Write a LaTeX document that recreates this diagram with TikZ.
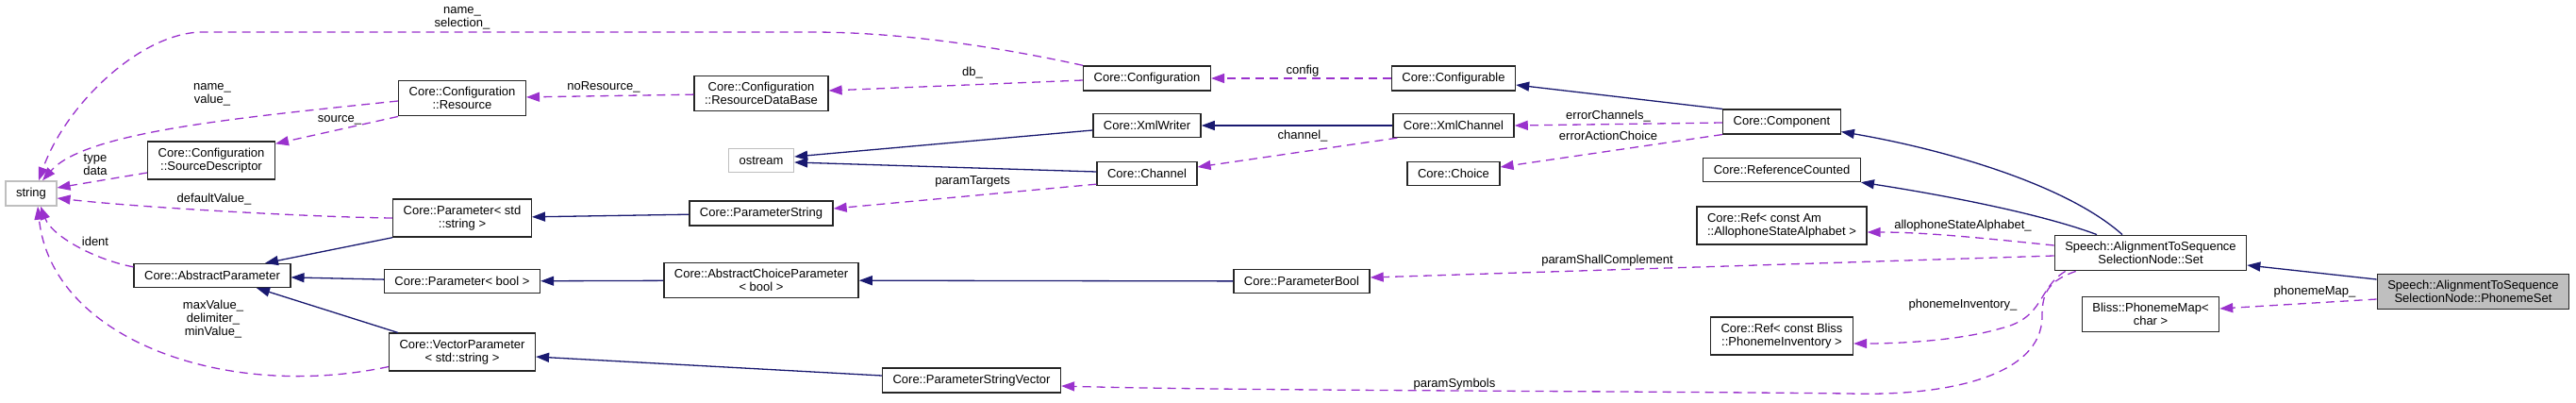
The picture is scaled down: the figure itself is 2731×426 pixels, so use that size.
\documentclass[tikz,border=0pt]{standalone}
\usepackage{fontspec}
\setmainfont{Liberation Sans}
\usetikzlibrary{arrows.meta}
\definecolor{inheritblue}{RGB}{25,25,112}
\definecolor{memberpurple}{RGB}{154,50,205}
\definecolor{extgray}{RGB}{191,191,191}
\tikzset{
  cls/.style={draw=black!85,line width=1.3pt,inner xsep=11pt,inner ysep=7pt,
    minimum height=25pt,align=center,font=\fontsize{13}{14}\selectfont},
  extcls/.style={cls,draw=extgray},
  focuscls/.style={cls,fill=extgray},
  inherit/.style={-{Triangle[length=14pt,width=10pt]},line width=1.3pt,inheritblue},
  member/.style={-{Triangle[length=14pt,width=10pt]},line width=1.3pt,
    dash pattern=on 9pt off 6pt,memberpurple},
  memberlabel/.style={inner sep=0pt,align=center,font=\fontsize{13}{14}\selectfont}
}

\begin{document}
\begin{tikzpicture}[x=1pt,y=-1pt]
  \useasboundingbox (0,0) rectangle (2731,426);
  % classes
  \node[extcls] (string) at (33,205) {string};
  \node[cls] (srcdesc) at (224,170) {Core::Configuration\\::SourceDescriptor};
  \node[cls] (absparam) at (225,292) {Core::AbstractParameter};
  \node[cls] (resource) at (490,104) {Core::Configuration\\::Resource};
  \node[cls] (paramstd) at (490,231) {Core::Parameter< std\\::string >};
  \node[cls] (parambool) at (490,298) {Core::Parameter< bool >};
  \node[cls] (vecparam) at (490,373) {Core::VectorParameter\\< std::string >};
  \node[cls] (resdb) at (807,99) {Core::Configuration\\::ResourceDataBase};
  \node[extcls] (ostream) at (807,170) {ostream};
  \node[cls] (paramstring) at (807,226) {Core::ParameterString};
  \node[cls] (abschoice) at (807,297) {Core::AbstractChoiceParameter\\< bool >};
  \node[cls] (strvector) at (1030,403) {Core::ParameterStringVector};
  \node[cls] (config) at (1216,83) {Core::Configuration};
  \node[cls] (xmlwriter) at (1216,133) {Core::XmlWriter};
  \node[cls] (channel) at (1216,184) {Core::Channel};
  \node[cls] (boolparam) at (1380,298) {Core::ParameterBool};
  \node[cls] (configurable) at (1541,83) {Core::Configurable};
  \node[cls] (xmlchannel) at (1541,133) {Core::XmlChannel};
  \node[cls] (choice) at (1541,184) {Core::Choice};
  \node[cls] (component) at (1889,129) {Core::Component};
  \node[cls] (refcounted) at (1889,180) {Core::ReferenceCounted};
  \node[cls,align=left] (refalphabet) at (1889,239) {Core::Ref< const Am\\::AllophoneStateAlphabet >};
  \node[cls] (refinventory) at (1889,356) {Core::Ref< const Bliss\\::PhonemeInventory >};
  \node[cls] (set) at (2280,268) {Speech::AlignmentToSequence\\SelectionNode::Set};
  \node[cls] (phonememap) at (2280,333) {Bliss::PhonemeMap<\\char >};
  \node[focuscls] (phonemeset) at (2622,309) {Speech::AlignmentToSequence\\SelectionNode::PhonemeSet};

  % inheritance
  \draw[inherit] ([yshift=-5pt]xmlwriter.west) -- ([yshift=4pt]ostream.east);
  \draw[inherit] ([yshift=2pt]channel.west) -- ([yshift=-2pt]ostream.east);
  \draw[inherit] (xmlchannel) -- (xmlwriter);
  \draw[inherit] (component.north west) -- ([yshift=-7pt]configurable.east);
  \draw[inherit] ([xshift=-30pt]set.north) .. controls (2190,195) and (2060,158) .. ([yshift=3pt]component.south east);
  \draw[inherit] ([xshift=-57pt]set.north) .. controls (2160,225) and (2050,205) .. (refcounted.south east);
  \draw[inherit] ([yshift=13pt]phonemeset.west) -- ([yshift=-13pt]set.east);
  \draw[inherit] (paramstring) -- (paramstd);
  \draw[inherit] (paramstd.south west) -- ([xshift=56pt]absparam.north);
  \draw[inherit] (parambool) -- (absparam);
  \draw[inherit] ([xshift=10pt]vecparam.north west) -- ([xshift=47pt]absparam.south);
  \draw[inherit] (abschoice) -- (parambool);
  \draw[inherit] (boolparam) -- (abschoice);
  \draw[inherit] ([yshift=5pt]strvector.west) -- ([yshift=-5pt]vecparam.east);

  % members
  \draw[member] (config.north west) .. controls (1050,48) and (950,34) .. (860,34) -- (215,34)
    .. controls (150,34) and (70,110) .. ([xshift=8pt]string.north);
  \draw[member] ([yshift=-3pt]resource.west) .. controls (250,125) and (90,140) .. ([xshift=12pt]string.north);
  \draw[member] ([yshift=-13pt]srcdesc.west) -- ([yshift=6pt]string.east);
  \draw[member] (paramstd.west) .. controls (330,230) and (150,220) .. ([yshift=-5pt]string.east);
  \draw[member] ([yshift=-4pt]absparam.north west) .. controls (100,275) and (55,250) .. ([xshift=10pt]string.south);
  \draw[member] ([yshift=5pt]vecparam.south west) .. controls (240,425) and (55,360) .. ([xshift=7pt]string.south);
  \draw[member] (resource.south west) -- ([yshift=-3pt]srcdesc.north east);
  \draw[member] (resdb) -- (resource);
  \draw[member] ([yshift=-2pt]config.west) -- ([yshift=3pt]resdb.east);
  \draw[member] (configurable) -- (config);
  \draw[member] ([yshift=-1pt]component.west) -- (xmlchannel.east);
  \draw[member] (component.south west) -- ([yshift=7pt]choice.east);
  \draw[member] ([xshift=5pt]xmlchannel.south west) -- ([yshift=7pt]channel.east);
  \draw[member] ([yshift=2pt]channel.south west) -- ([yshift=5pt]paramstring.east);
  \draw[member] ([yshift=-3pt]set.west) -- ([yshift=4pt]boolparam.east);
  \draw[member] ([yshift=8pt]set.west) .. controls (2100,252) and (2040,246) .. ([yshift=-7pt]refalphabet.east);
  \draw[member] ([xshift=12pt]set.south west) .. controls (2160,305) and (2168,337) .. (2121,348)
    .. controls (2080,360) and (2020,364) .. ([yshift=-8pt]refinventory.east);
  \draw[member] ([xshift=23pt]set.south west) .. controls (2170,298) and (2165,312) .. (2165,335)
    .. controls (2165,400) and (2060,420) .. (1960,417)
    .. controls (1700,414) and (1300,414) .. ([yshift=-6pt]strvector.east);
  \draw[member] ([yshift=-8pt]phonemeset.west) -- ([yshift=6pt]phonememap.east);

  % member names
  \node[memberlabel] (lnamesel) at (490,19) {name\_\\selection\_};
  \node[memberlabel] (lnameval) at (225,100) {name\_\\value\_};
  \node[memberlabel] (lsource) at (360,127) {source\_};
  \node[memberlabel] (ltypedata) at (101,174) {type\\data};
  \node[memberlabel] (ldefault) at (227,211) {defaultValue\_};
  \node[memberlabel] (lident) at (101,256) {ident};
  \node[memberlabel] (lvalues) at (226,338) {maxValue\_\\delimiter\_\\minValue\_};
  \node[memberlabel] (lnores) at (640,92) {noResource\_};
  \node[memberlabel] (ldb) at (1031,77) {db\_};
  \node[memberlabel] (lconfig) at (1381,75) {config};
  \node[memberlabel] (lerrch) at (1705,123) {errorChannels\_};
  \node[memberlabel] (lerract) at (1705,144) {errorActionChoice};
  \node[memberlabel] (lchannel) at (1381,144) {channel\_};
  \node[memberlabel] (ltargets) at (1031,192) {paramTargets};
  \node[memberlabel] (lshall) at (1704,276) {paramShallComplement};
  \node[memberlabel] (lalpha) at (2081,239) {allophoneStateAlphabet\_};
  \node[memberlabel] (linventory) at (2081,323) {phonemeInventory\_};
  \node[memberlabel] (lsymbols) at (1542,407) {paramSymbols};
  \node[memberlabel] (lmap) at (2454,309) {phonemeMap\_};
\end{tikzpicture}
\end{document}
